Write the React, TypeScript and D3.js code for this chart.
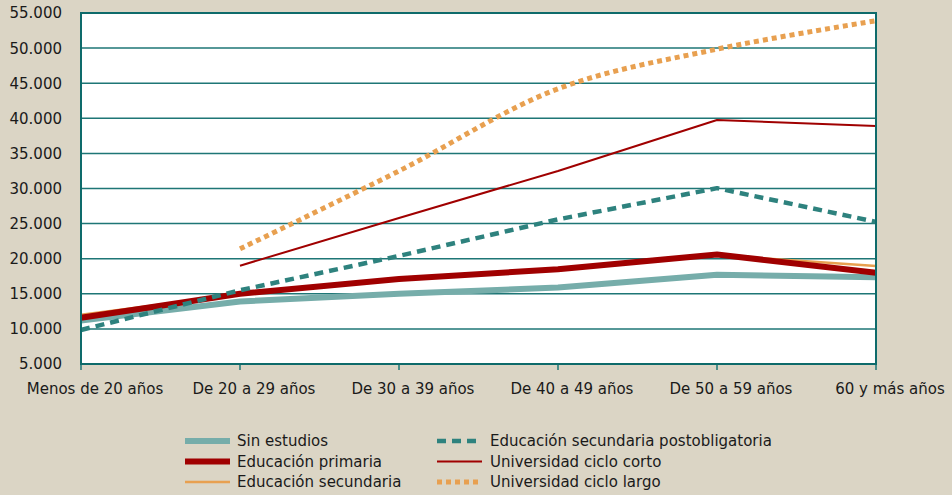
import React from "react";
import * as d3 from "d3";

const categories = [
  "Menos de 20 años",
  "De 20 a 29 años",
  "De 30 a 39 años",
  "De 40 a 49 años",
  "De 50 a 59 años",
  "60 y más años",
];
const yTicks = [5000, 10000, 15000, 20000, 25000, 30000, 35000, 40000, 45000, 50000, 55000];

const sinEstudios = [11200, 13900, 15000, 15900, 17700, 17350];
const primaria = [11600, 15000, 17100, 18500, 20600, 18000];
const secundaria = [12000, 14900, 17000, 18400, 20500, 18950];
const postobligatoria = [9850, 15500, 20400, 25600, 30050, 25250];
const cicloCorto: (number | null)[] = [null, 19000, 25800, 32500, 39750, 38900];
const cicloLargo: (number | null)[] = [null, 21400, 32500, 44200, 49850, 53900];

type Series = {
  name: string;
  values: (number | null)[];
  color: string;
  width: number;
  dash?: string;
  smooth?: boolean;
};

const series: Series[] = [
  { name: "Sin estudios", values: sinEstudios, color: "#76ADAA", width: 6 },
  { name: "Educación primaria", values: primaria, color: "#A00000", width: 6 },
  { name: "Educación secundaria", values: secundaria, color: "#E8A050", width: 2.5 },
  { name: "Educación secundaria postobligatoria", values: postobligatoria, color: "#2E827E", width: 4.5, dash: "9,6" },
  { name: "Universidad ciclo corto", values: cicloCorto, color: "#A00000", width: 2 },
  { name: "Universidad ciclo largo", values: cicloLargo, color: "#E8A050", width: 5, dash: "5,4", smooth: true },
];

// drawing order: secundaria lies beneath primaria
const drawOrder = [0, 2, 1, 3, 4, 5];
const legendOrder = [0, 3, 1, 4, 2, 5];

export default function App() {
  const W = 952;
  const H = 495;
  const left = 81;
  const right = 876;
  const top = 13;
  const bottom = 364;

  const x = d3.scalePoint<string>().domain(categories).range([left, right]);
  const y = d3.scaleLinear().domain([5000, 55000]).range([bottom, top]);

  const font = "'DejaVu Sans', Verdana, sans-serif";

  return (
    <svg
      width={W}
      height={H}
      style={{ position: "absolute", left: 0, top: 0, display: "block" }}
      fontFamily={font}
    >
      <rect x={0} y={0} width={W} height={H} fill="#DBD5C5" />
      <rect x={left} y={top} width={right - left} height={bottom - top} fill="#FFFFFF" />
      {yTicks.map((t) => (
        <g key={t}>
          <line x1={left} x2={right} y1={y(t)} y2={y(t)} stroke="#1E7676" strokeWidth={1.5} />
          <text x={62} y={y(t)} dy="0.36em" textAnchor="end" fontSize={15} fill="#1A1A1A">
            {d3.format(",")(t).replace(/,/g, ".")}
          </text>
        </g>
      ))}
      {categories.map((c) => (
        <g key={c}>
          <line x1={x(c)} x2={x(c)} y1={bottom} y2={bottom + 6} stroke="#1E7676" strokeWidth={1.5} />
          <text x={(x(c) as number) + 14} y={394} textAnchor="middle" fontSize={15} fill="#1A1A1A">
            {c}
          </text>
        </g>
      ))}
      {drawOrder.map((idx) => {
        const s = series[idx];
        const line = d3
          .line<number | null>()
          .defined((d) => d !== null)
          .x((_, i) => x(categories[i]) as number)
          .y((d) => y(d as number))
          .curve(s.smooth ? d3.curveCatmullRom.alpha(0.5) : d3.curveLinear);
        return (
          <path
            key={s.name}
            d={line(s.values) || ""}
            fill="none"
            stroke={s.color}
            strokeWidth={s.width}
            strokeDasharray={s.dash}
            strokeLinejoin="round"
          />
        );
      })}
      <rect x={left} y={top} width={right - left} height={bottom - top} fill="none" stroke="#0E6B6B" strokeWidth={2} />
      {legendOrder.map((idx, k) => {
        const s = series[idx];
        const col = k % 2;
        const row = Math.floor(k / 2);
        const sx = col === 0 ? 185 : 437;
        const tx = col === 0 ? 237 : 490;
        const cy = 441 + row * 20.5;
        return (
          <g key={s.name}>
            <line
              x1={sx}
              x2={sx + 45}
              y1={cy}
              y2={cy}
              stroke={s.color}
              strokeWidth={s.width}
              strokeDasharray={s.dash}
            />
            <text x={tx} y={cy} dy="0.36em" fontSize={15} fill="#1A1A1A">
              {s.name}
            </text>
          </g>
        );
      })}
    </svg>
  );
}
